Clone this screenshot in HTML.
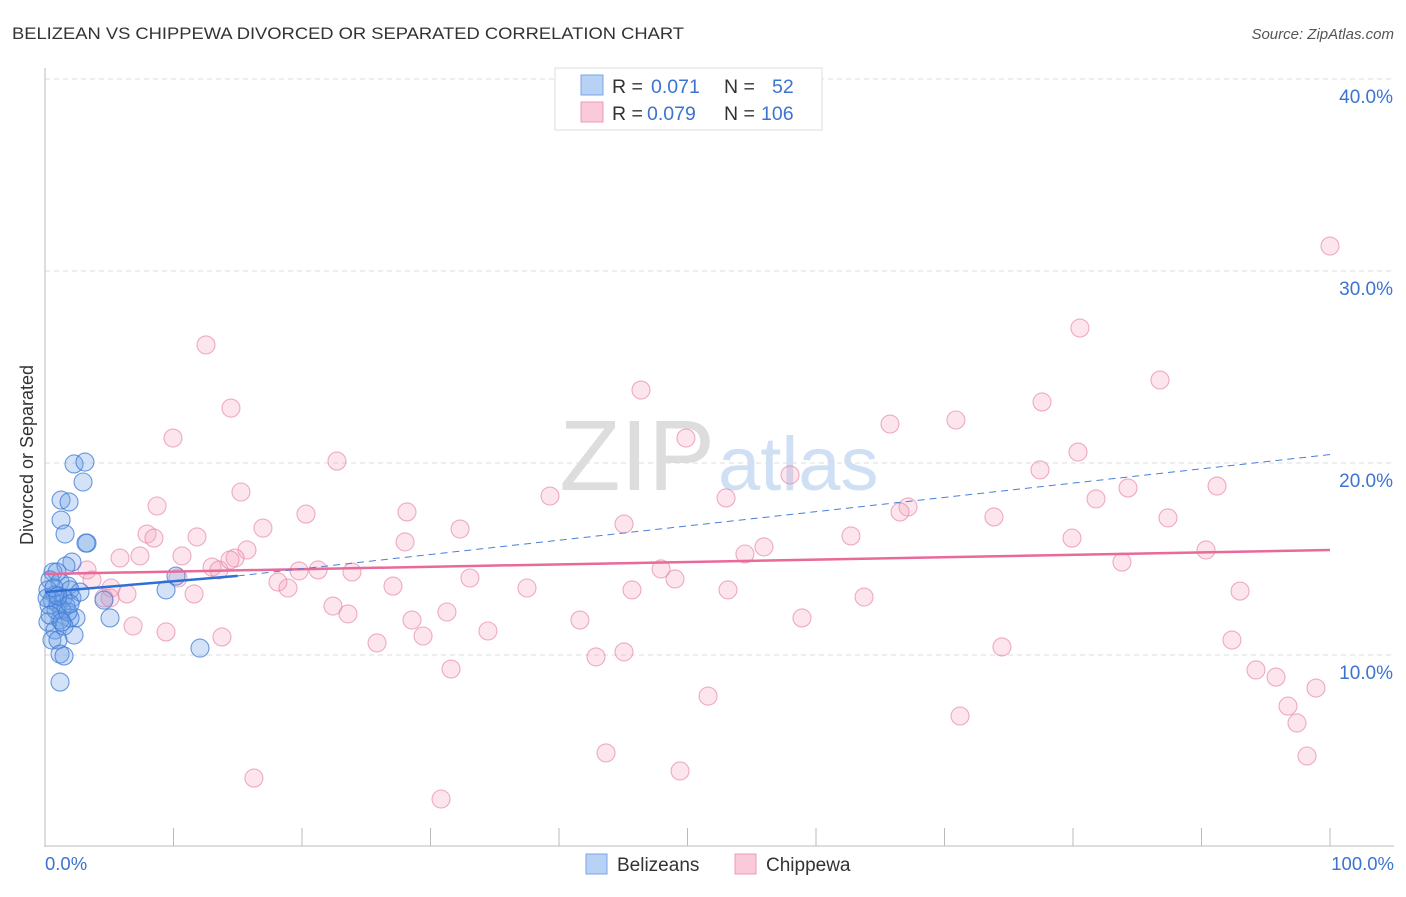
<!DOCTYPE html>
<html><head><meta charset="utf-8"><style>
body{margin:0;background:#fff;font-family:"Liberation Sans",sans-serif;}
svg text{font-family:"Liberation Sans",sans-serif;}
</style></head><body>
<svg id="chart" width="1406" height="892">
<text x="12" y="39" font-size="17" fill="#333" textLength="672" lengthAdjust="spacingAndGlyphs">BELIZEAN VS CHIPPEWA DIVORCED OR SEPARATED CORRELATION CHART</text>
<text x="1394" y="39" font-size="15" fill="#555" font-style="italic" text-anchor="end">Source: ZipAtlas.com</text>
<text x="715" y="490" font-size="100" fill="#ddd" text-anchor="end" font-family="Liberation Serif">ZIP</text>
<text x="718" y="490" font-size="76" fill="#cfe0f5">atlas</text>
<g id="grid"></g>
<line x1="45" y1="68" x2="45" y2="847" stroke="#bbb"/>
<line x1="45" y1="846" x2="1394" y2="846" stroke="#bbb"/>
<text transform="translate(33,455) rotate(-90)" font-size="18" fill="#333" text-anchor="middle">Divorced or Separated</text>
<text x="45" y="870" font-size="18.5" fill="#3b73d0">0.0%</text>
<text x="1394" y="870" font-size="18.5" fill="#3b73d0" text-anchor="end">100.0%</text>
<g id="pts"></g>
<g id="lines"></g>
<g>
<rect x="555" y="68" width="267" height="62" fill="#fff" stroke="#ddd"/>
<rect x="581" y="75" width="22" height="20" fill="#b8d2f5" stroke="#7aa6e6"/>
<rect x="581" y="102" width="22" height="20" fill="#fbcada" stroke="#ee9ab6"/>
<text x="612" y="93" font-size="19.5" fill="#333">R = </text><text x="651" y="93" font-size="19.5" fill="#3b73d0">0.071</text>
<text x="724" y="93" font-size="19.5" fill="#333">N = </text><text x="772" y="93" font-size="19.5" fill="#3b73d0">52</text>
<text x="612" y="120" font-size="19.5" fill="#333">R = </text><text x="647" y="120" font-size="19.5" fill="#3b73d0">0.079</text>
<text x="724" y="120" font-size="19.5" fill="#333">N = </text><text x="761" y="120" font-size="19.5" fill="#3b73d0">106</text>
</g>
<g>
<rect x="586" y="854" width="21" height="20" fill="#b8d2f5" stroke="#7aa6e6"/>
<text x="617" y="871" font-size="19" fill="#333">Belizeans</text>
<rect x="735" y="854" width="21" height="20" fill="#fbcada" stroke="#ee9ab6"/>
<text x="766" y="871" font-size="19" fill="#333">Chippewa</text>
</g>
</svg>
<script>
const yTicks=[10,20,30,40];
const xTicks=[0,10,20,30,40,50,60,70,80,90,100];
const bluePx=[[74,464],[85,462],[83,482],[61,500],[69,502],[61,520],[65,534],[87,543],[86,543],[72,562],[66,566],[53,572],[57,572],[50,580],[60,582],[68,586],[70,590],[48,590],[55,595],[63,598],[72,598],[52,600],[58,604],[49,605],[66,606],[62,610],[76,618],[70,618],[60,620],[48,622],[55,630],[74,635],[52,640],[58,640],[60,654],[64,656],[60,682],[110,618],[166,590],[176,576],[200,648],[104,600],[56,610],[50,615],[64,626],[47,598],[80,592],[68,612],[54,588],[58,596],[62,622],[70,604]];
const pinkPx=[[1330,246],[1080,328],[1160,380],[206,345],[641,390],[231,408],[1042,402],[956,420],[890,424],[173,438],[686,438],[1078,452],[337,461],[1040,470],[790,475],[241,492],[550,496],[726,498],[1217,486],[1128,488],[1096,499],[157,506],[908,507],[900,512],[407,512],[306,514],[994,517],[1168,518],[263,528],[460,529],[624,524],[147,534],[154,538],[197,537],[851,536],[405,542],[764,547],[1072,538],[1206,550],[247,550],[182,556],[120,558],[140,556],[235,558],[745,554],[1122,562],[212,567],[219,570],[87,570],[299,571],[318,570],[352,572],[661,569],[675,579],[470,578],[178,578],[92,580],[278,582],[288,588],[393,586],[527,588],[632,590],[728,590],[111,588],[127,594],[194,594],[104,598],[864,597],[1240,591],[333,606],[348,614],[447,612],[412,620],[580,620],[802,618],[133,626],[166,632],[488,631],[222,637],[423,636],[377,643],[1232,640],[1002,647],[596,657],[624,652],[451,669],[1256,670],[1276,677],[1316,688],[708,696],[1288,706],[960,716],[1297,723],[606,753],[1307,756],[254,778],[680,771],[441,799],[110,598],[230,560]];
const blueX=bluePx.map(p=>+((p[0]-45)/12.85).toFixed(2));
const blueY=bluePx.map(p=>+((847-p[1])/19.2).toFixed(2));
const pinkX=pinkPx.map(p=>+((p[0]-45)/12.85).toFixed(2));
const pinkY=pinkPx.map(p=>+((847-p[1])/19.2).toFixed(2));
const blueTrend=[[0,13.28],[15,14.12],[100,20.44]];
const pinkTrend=[[0,14.22],[100,15.47]];
const sx=v=>45+v*12.85, sy=v=>847-v*19.2;
const NS="http://www.w3.org/2000/svg";
function mk(t,a,parent){const e=document.createElementNS(NS,t);for(const k in a)e.setAttribute(k,a[k]);document.getElementById(parent).appendChild(e);return e;}
yTicks.forEach(t=>{
 const l=mk('line',{x1:45,x2:1394,y1:sy(t),y2:sy(t),stroke:'#ddd','stroke-dasharray':'5,4'},'grid');
 
 
 const tx=mk('text',{x:1393,y:sy(t)+24,'font-size':19,fill:'#3b73d0','text-anchor':'end'},'grid');
 tx.textContent=t.toFixed(1)+'%';
 
 
});
xTicks.forEach(t=>{
 const l=mk('line',{x1:sx(t),x2:sx(t),y1:828,y2:846,stroke:'#bbb'},'grid');
 
 
});
pinkX.forEach((x,i)=>{
 const c=mk('circle',{cx:sx(x),cy:sy(pinkY[i]),r:9,fill:'rgba(245,160,190,0.28)',stroke:'rgba(230,130,165,0.65)','stroke-width':1.1},'pts');
 
 
});
blueX.forEach((x,i)=>{
 const c=mk('circle',{cx:sx(x),cy:sy(blueY[i]),r:9,fill:'rgba(110,160,230,0.3)',stroke:'rgba(60,120,215,0.75)','stroke-width':1.1},'pts');
 
 
});
let l=mk('line',{x1:sx(pinkTrend[0][0]),y1:sy(pinkTrend[0][1]),x2:sx(pinkTrend[1][0]),y2:sy(pinkTrend[1][1]),stroke:'#e8699a','stroke-width':2.5},'lines');


l=mk('line',{x1:sx(blueTrend[1][0]),y1:sy(blueTrend[1][1]),x2:sx(blueTrend[2][0]),y2:sy(blueTrend[2][1]),stroke:'#4a80d8','stroke-width':1,'stroke-dasharray':'7,5'},'lines');


l=mk('line',{x1:sx(blueTrend[0][0]),y1:sy(blueTrend[0][1]),x2:sx(blueTrend[1][0]),y2:sy(blueTrend[1][1]),stroke:'#2f6fd6','stroke-width':2.5},'lines');


</script>
</body></html>
